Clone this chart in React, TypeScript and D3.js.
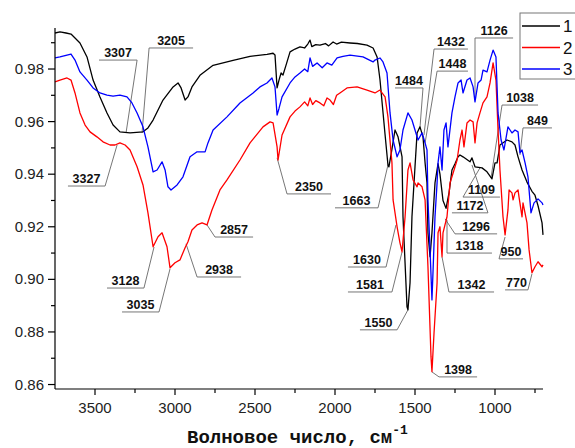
import React from "react";
import * as d3 from "d3";

type P = [number, number];

// Wavenumber (cm^-1), value
const series1: P[] = [
  [3750, 0.9937], [3719, 0.9941], [3681, 0.9937], [3650, 0.9933], [3625, 0.9918], [3594, 0.9899],
  [3550, 0.9846], [3512, 0.9758], [3469, 0.9694], [3425, 0.9633], [3387, 0.9587], [3344, 0.9561],
  [3281, 0.9557], [3200, 0.9561], [3169, 0.9576], [3137, 0.9606], [3075, 0.9682], [3012, 0.9732],
  [2981, 0.9747], [2962, 0.9728], [2937, 0.9682], [2919, 0.9694], [2894, 0.9732], [2844, 0.9776],
  [2762, 0.9814], [2637, 0.9833], [2531, 0.9848], [2425, 0.9856], [2387, 0.986], [2375, 0.9853],
  [2362, 0.9728], [2350, 0.9758], [2337, 0.9785], [2325, 0.9777], [2306, 0.9815], [2281, 0.9865],
  [2250, 0.9876], [2219, 0.9884], [2190, 0.988], [2170, 0.9895], [2156, 0.991], [2145, 0.9885],
  [2120, 0.9893], [2094, 0.9891], [2060, 0.9897], [2040, 0.9888], [2012, 0.9903], [1990, 0.9895],
  [1960, 0.9902], [1906, 0.9899], [1860, 0.9897], [1800, 0.9891], [1762, 0.988], [1737, 0.9846],
  [1719, 0.976], [1687, 0.955], [1669, 0.9435], [1663, 0.9428], [1644, 0.9495], [1625, 0.9568],
  [1606, 0.9542], [1581, 0.9466], [1575, 0.9238], [1550, 0.8896], [1544, 0.8884], [1531, 0.8987],
  [1519, 0.9238], [1500, 0.9428], [1487, 0.9557], [1469, 0.958], [1450, 0.9542], [1437, 0.9443],
  [1425, 0.9367], [1419, 0.9177], [1406, 0.9086], [1394, 0.9177], [1375, 0.9367], [1356, 0.944],
  [1344, 0.94], [1325, 0.93], [1306, 0.927], [1287, 0.933], [1269, 0.9416], [1250, 0.944],
  [1231, 0.9466], [1219, 0.9473], [1200, 0.9466], [1156, 0.9447], [1144, 0.9462], [1125, 0.9428],
  [1081, 0.9424], [1050, 0.9409], [1019, 0.9382], [1000, 0.9443], [987, 0.9443], [969, 0.9511],
  [925, 0.953], [894, 0.9523], [875, 0.9511], [856, 0.9466], [831, 0.9416], [800, 0.937],
  [769, 0.9335], [750, 0.932], [731, 0.928], [706, 0.9215], [700, 0.9169],
];

const series2: P[] = [
  [3750, 0.9751], [3719, 0.9758], [3675, 0.9766], [3650, 0.9758], [3625, 0.9709], [3594, 0.9633],
  [3562, 0.9587], [3531, 0.9561], [3488, 0.9542], [3450, 0.9523], [3406, 0.9511], [3375, 0.9511],
  [3344, 0.9519], [3312, 0.9511], [3281, 0.9492], [3237, 0.9428], [3200, 0.9359], [3169, 0.9253],
  [3137, 0.9124], [3106, 0.9162], [3081, 0.9177], [3050, 0.9124], [3031, 0.9044], [3000, 0.9063],
  [2969, 0.9074], [2937, 0.912], [2919, 0.9143], [2894, 0.9188], [2862, 0.9207], [2831, 0.9215],
  [2800, 0.9207], [2769, 0.9264], [2719, 0.934], [2675, 0.9378], [2594, 0.9454], [2531, 0.9519],
  [2450, 0.958], [2406, 0.9599], [2387, 0.9595], [2362, 0.9504], [2356, 0.9454], [2331, 0.9549],
  [2281, 0.9618], [2250, 0.964], [2219, 0.9656], [2190, 0.9675], [2170, 0.966], [2156, 0.969],
  [2140, 0.9665], [2120, 0.968], [2094, 0.9671], [2070, 0.966], [2050, 0.969], [2031, 0.9682],
  [2010, 0.9665], [1990, 0.97], [1969, 0.9709], [1925, 0.9728], [1862, 0.9732], [1800, 0.972],
  [1750, 0.9709], [1719, 0.972], [1687, 0.9694], [1669, 0.9618], [1644, 0.9443], [1637, 0.9302],
  [1612, 0.92], [1594, 0.9139], [1581, 0.9105], [1562, 0.9238], [1544, 0.9416], [1531, 0.9443],
  [1512, 0.9378], [1487, 0.9352], [1481, 0.9367], [1456, 0.9352], [1437, 0.9302], [1419, 0.9048],
  [1400, 0.8706], [1394, 0.8649], [1381, 0.8797], [1362, 0.8987], [1356, 0.9177], [1344, 0.92],
  [1331, 0.9086], [1325, 0.9177], [1300, 0.9238], [1281, 0.9367], [1269, 0.939], [1237, 0.9454],
  [1219, 0.953], [1206, 0.9568], [1194, 0.9504], [1175, 0.9595], [1156, 0.9606], [1137, 0.9599],
  [1125, 0.9519], [1112, 0.9595], [1094, 0.9633], [1075, 0.9671], [1050, 0.9694], [1031, 0.9747],
  [1012, 0.9823], [994, 0.9758], [981, 0.9568], [969, 0.9416], [950, 0.9238], [937, 0.9169],
  [919, 0.9264], [912, 0.934], [894, 0.9329], [887, 0.9302], [875, 0.9329], [856, 0.934],
  [850, 0.9314], [831, 0.9238], [825, 0.9291], [800, 0.9215], [787, 0.9112], [769, 0.9025],
  [750, 0.9048], [731, 0.9067], [706, 0.9048], [700, 0.9055],
];

const series3: P[] = [
  [3750, 0.9842], [3719, 0.9846], [3675, 0.9853], [3650, 0.9857], [3625, 0.9834], [3594, 0.9789],
  [3550, 0.9758], [3512, 0.9728], [3469, 0.9709], [3425, 0.9701], [3387, 0.9697], [3344, 0.9701],
  [3300, 0.9694], [3269, 0.9671], [3237, 0.9633], [3200, 0.958], [3169, 0.9504], [3137, 0.9409],
  [3112, 0.9416], [3081, 0.9447], [3062, 0.9416], [3044, 0.9352], [3025, 0.934], [2987, 0.9359],
  [2950, 0.939], [2906, 0.9466], [2862, 0.9485], [2812, 0.9485], [2794, 0.9519], [2762, 0.9568],
  [2675, 0.9618], [2594, 0.9671], [2512, 0.9709], [2469, 0.9732], [2425, 0.9747], [2394, 0.9766],
  [2375, 0.9732], [2362, 0.9625], [2350, 0.965], [2331, 0.9694], [2281, 0.9747], [2250, 0.977],
  [2219, 0.9785], [2190, 0.98], [2170, 0.979], [2156, 0.9842], [2140, 0.981], [2112, 0.9823],
  [2080, 0.9805], [2050, 0.9823], [2020, 0.9815], [1987, 0.9842], [1950, 0.9848], [1906, 0.9853],
  [1825, 0.9846], [1762, 0.9827], [1750, 0.9834], [1719, 0.9842], [1700, 0.9827], [1675, 0.9785],
  [1656, 0.9633], [1637, 0.953], [1612, 0.9466], [1594, 0.9492], [1575, 0.9568], [1544, 0.9633],
  [1519, 0.9606], [1500, 0.9568], [1481, 0.953], [1456, 0.9557], [1437, 0.9519], [1425, 0.9492],
  [1419, 0.9302], [1406, 0.9112], [1394, 0.8922], [1387, 0.9036], [1375, 0.9238], [1362, 0.9367],
  [1356, 0.9443], [1344, 0.9504], [1331, 0.9416], [1319, 0.9568], [1306, 0.9595], [1294, 0.9504],
  [1269, 0.9633], [1250, 0.9694], [1231, 0.9747], [1212, 0.9758], [1200, 0.9709], [1175, 0.9758],
  [1156, 0.9766], [1137, 0.9732], [1125, 0.9675], [1106, 0.9747], [1087, 0.9758], [1075, 0.9796],
  [1050, 0.9789], [1031, 0.9834], [1012, 0.9872], [994, 0.9846], [981, 0.9633], [962, 0.953],
  [944, 0.9492], [919, 0.958], [906, 0.9568], [894, 0.9557], [875, 0.9568], [856, 0.9561],
  [844, 0.9481], [831, 0.9492], [812, 0.9443], [794, 0.939], [775, 0.9253], [756, 0.9291],
  [731, 0.9306], [706, 0.9291], [700, 0.9283],
];

const seriesNames = ["1", "2", "3"];
const seriesColors = ["#000000", "#ff0000", "#0000ff"];

// Peak annotations: label, peak point (wn, value), underline from lx1 to lx2 at ly
const annLabels = ["3307", "3205", "3327", "3128", "3035", "2938", "2857", "2350", "1663", "1630", "1581", "1550", "1398", "1342", "1318", "1296", "1172", "1109", "1126", "1432", "1448", "1484", "1038", "849", "950", "770"];
const annPoints: P[] = [
  [3306, 0.9557], [3206, 0.9557], [3362, 0.9511], [3131, 0.9123], [3031, 0.904], [2931, 0.9135],
  [2800, 0.9207], [2362, 0.9462], [1669, 0.9435], [1619, 0.9207], [1581, 0.9104], [1544, 0.8884],
  [1394, 0.8648], [1331, 0.9085], [1300, 0.9226], [1312, 0.923], [1144, 0.9435], [1094, 0.9424],
  [1125, 0.9682], [1444, 0.9549], [1437, 0.9519], [1469, 0.9576], [1025, 0.9386], [844, 0.9473],
  [937, 0.9161], [769, 0.9021],
];
const annLines: [number, number, number][] = [
  [3475, 3237, 0.9834], [3162, 2887, 0.988], [3669, 3437, 0.9355], [3425, 3194, 0.8967],
  [3331, 3100, 0.8876], [2862, 2587, 0.9009], [2750, 2512, 0.9161], [2300, 2025, 0.9325],
  [2000, 1731, 0.9272], [1919, 1681, 0.9047], [1919, 1644, 0.8952], [1844, 1612, 0.8808],
  [1350, 1112, 0.8629], [1288, 1006, 0.8952], [1300, 1019, 0.91], [1250, 987, 0.9173],
  [1269, 1044, 0.9253], [1200, 969, 0.9313], [1125, 887, 0.9918], [1381, 1169, 0.9876],
  [1362, 1169, 0.9792], [1625, 1450, 0.9728], [956, 731, 0.9663], [825, 644, 0.9576],
  [975, 825, 0.9078], [937, 794, 0.896],
];

const xMajor = [3500, 3000, 2500, 2000, 1500, 1000];
const xMinor = [3250, 2750, 2250, 1750, 1250, 750];
const yMajor = [0.86, 0.88, 0.9, 0.92, 0.94, 0.96, 0.98];
const yMinor = [0.87, 0.89, 0.91, 0.93, 0.95, 0.97, 0.99];
const xTitle = "Волновое число, см";
const xTitleSup = "-1";

export default function App() {
  const W = 575, H = 448;
  const x = d3.scaleLinear().domain([3750, 700]).range([55, 543]);
  const y = d3.scaleLinear().domain([0.8583, 0.9956]).range([389, 28]);
  const line = d3.line<P>().x((d) => x(d[0])).y((d) => y(d[1]));
  const series = [series1, series2, series3];
  const sans = "'Liberation Sans', Arial, sans-serif";
  const gray = "#666";

  return (
    <svg width={W} height={H} style={{ position: "absolute", left: 0, top: 0, background: "#fff" }} xmlns="http://www.w3.org/2000/svg">
      <rect x={0} y={0} width={W} height={H} fill="#fff" />
      {/* annotations */}
      {annLabels.map((t, i) => {
        const [px, py] = annPoints[i];
        const [a, b, ly] = annLines[i];
        const x1 = x(a), x2 = x(b), yy = y(ly);
        const cx = x(px), cy = y(py);
        const ex = Math.abs(cx - x1) < Math.abs(cx - x2) ? x1 : x2;
        return (
          <g key={t}>
            <line x1={x1} x2={x2} y1={yy} y2={yy} stroke={gray} strokeWidth={0.9} />
            <line x1={ex} x2={cx} y1={yy} y2={cy} stroke={gray} strokeWidth={0.9} />
            <text x={(x1 + x2) / 2} y={yy - 3} textAnchor="middle" fontFamily={sans} fontWeight="bold" fontSize={12.5} fill="#111">{t}</text>
          </g>
        );
      })}
      {/* curves */}
      {series.map((s, i) => (
        <path key={i} d={line(s) || ""} fill="none" stroke={seriesColors[i]} strokeWidth={1.3} strokeLinejoin="round" />
      ))}
      {/* axes */}
      <line x1={55} x2={55} y1={28} y2={389} stroke="#000" strokeWidth={1.2} />
      <line x1={55} x2={543} y1={389} y2={389} stroke="#000" strokeWidth={1.2} />
      {yMajor.map((v) => (
        <g key={"ym" + v}>
          <line x1={48} x2={55} y1={y(v)} y2={y(v)} stroke="#000" strokeWidth={1.2} />
          <text x={44} y={y(v) + 5} textAnchor="end" fontFamily={sans} fontSize={15} fill="#222">{v.toFixed(2)}</text>
        </g>
      ))}
      {yMinor.map((v) => (
        <line key={"yn" + v} x1={51} x2={55} y1={y(v)} y2={y(v)} stroke="#000" strokeWidth={1.2} />
      ))}
      {xMajor.map((v) => (
        <g key={"xm" + v}>
          <line x1={x(v)} x2={x(v)} y1={389} y2={395} stroke="#000" strokeWidth={1.2} />
          <text x={x(v)} y={413} textAnchor="middle" fontFamily={sans} fontSize={15} fill="#222">{v}</text>
        </g>
      ))}
      {xMinor.map((v) => (
        <line key={"xn" + v} x1={x(v)} x2={x(v)} y1={389} y2={393} stroke="#000" strokeWidth={1.2} />
      ))}
      <text x={187} y={443} fontFamily="'Liberation Mono', 'Courier New', monospace" fontWeight="bold" fontSize={19} fill="#111">
        {xTitle}
        <tspan dy={-9} fontSize={13}>{xTitleSup}</tspan>
      </text>
      {/* legend */}
      <rect x={520} y={13} width={70} height={66} fill="#fff" stroke="#777" strokeWidth={1} />
      {seriesNames.map((n, i) => (
        <g key={n}>
          <line x1={522} x2={560} y1={26 + i * 21.5} y2={26 + i * 21.5} stroke={seriesColors[i]} strokeWidth={1.3} />
          <text x={563} y={26 + i * 21.5 + 6} fontFamily={sans} fontSize={17} fill="#111">{n}</text>
        </g>
      ))}
    </svg>
  );
}
